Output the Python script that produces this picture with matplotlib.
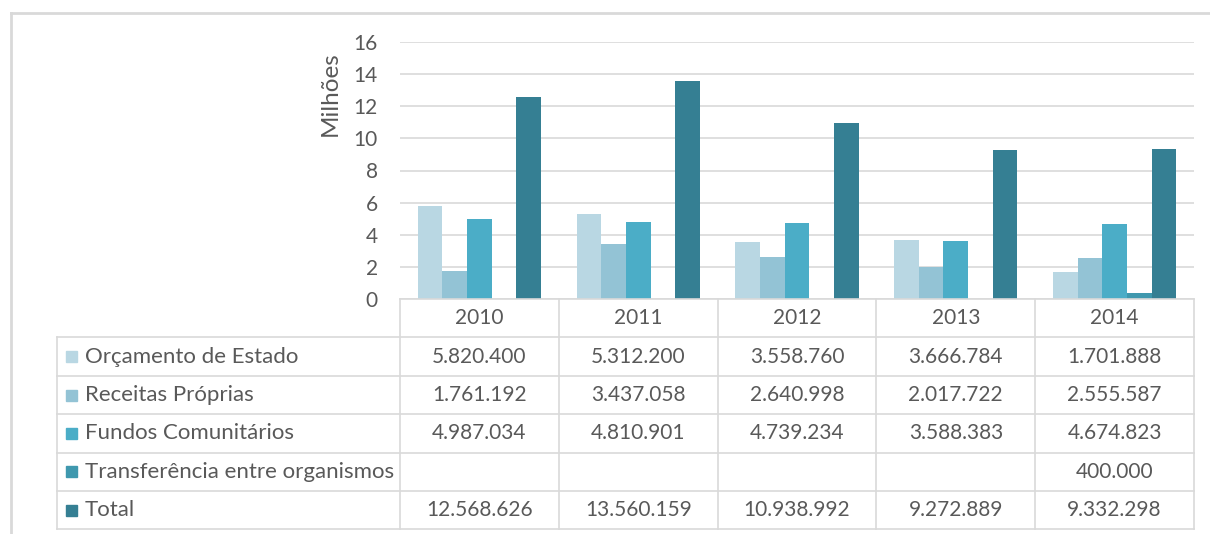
import numpy as np
import matplotlib
matplotlib.use("Agg")
import matplotlib.pyplot as plt
from matplotlib.lines import Line2D
from matplotlib.patches import Rectangle

plt.rcParams['font.family'] = ['Lato', 'DejaVu Sans']

# data (euros)
years = ["2010", "2011", "2012", "2013", "2014"]
series_names = ["Orçamento de Estado", "Receitas Próprias", "Fundos Comunitários",
                "Transferência entre organismos", "Total"]
orcamento = [5820400, 5312200, 3558760, 3666784, 1701888]
receitas = [1761192, 3437058, 2640998, 2017722, 2555587]
fundos = [4987034, 4810901, 4739234, 3588383, 4674823]
transferencia = [None, None, None, None, 400000]
total = [12568626, 13560159, 10938992, 9272889, 9332298]
colors = ["#b9d7e3", "#93c3d5", "#4badc7", "#3f98ae", "#357f93"]

W, H = 1210, 534
fig = plt.figure(figsize=(W / 100, H / 100), dpi=100)

def fx(x):
    return x / W

def fy(y):
    return 1 - y / H

# plot area
ax = fig.add_axes([fx(400), fy(299), fx(1194) - fx(400), fy(42) - fy(299)])
series = [orcamento, receitas, fundos, transferencia, total]
x = np.arange(len(years))
bw = 0.155
for i, (vals, c) in enumerate(zip(series, colors)):
    v = np.array([np.nan if s is None else s / 1e6 for s in vals])
    ax.bar(x + (i - 2) * bw, v, width=bw, color=c, zorder=2)

ax.set_xlim(-0.5, len(years) - 0.5)
ax.set_ylim(0, 16)
ax.set_yticks(range(0, 17, 2))
ax.grid(axis='y', color='#d9d9d9', linewidth=1.2, zorder=0)
for s in ax.spines.values():
    s.set_visible(False)
ax.set_xticks([])
ax.tick_params(axis='y', length=0, labelsize=15, labelcolor='#595959', pad=16)
ax.set_ylabel("Milhões", fontsize=17.5, color='#595959')
ax.yaxis.set_label_coords(-0.074, 0.80)

# outer border
fig.add_artist(Line2D([fx(11), fx(11)], [fy(13), fy(534)], color='#d9d9d9', lw=2))
fig.add_artist(Line2D([fx(11), fx(1210)], [fy(13), fy(13)], color='#d9d9d9', lw=2))

# data table
grid_c = '#d9d9d9'
txt_c = '#595959'
fs = 15
fig.canvas.draw()
edges_px = [ax.transData.transform((e, 0))[0] for e in np.arange(-0.5, len(years), 1.0)]
row_tops = [299, 337.4, 375.8, 414.2, 452.6, 491, 529.4]
left = 57

# vertical lines
for e in edges_px:
    fig.add_artist(Line2D([e / W, e / W], [fy(row_tops[0]), fy(row_tops[-1])], color=grid_c, lw=1.2))
fig.add_artist(Line2D([fx(left), fx(left)], [fy(row_tops[1]), fy(row_tops[-1])], color=grid_c, lw=1.2))
# horizontal lines
for k, yy in enumerate(row_tops):
    x0 = edges_px[0] / W if k == 0 else fx(left)
    fig.add_artist(Line2D([x0, edges_px[-1] / W], [fy(yy), fy(yy)], color=grid_c, lw=1.2))

centers = [(edges_px[j] + edges_px[j + 1]) / 2 for j in range(len(years))]
for j, yr in enumerate(years):
    fig.text(centers[j] / W, fy((row_tops[0] + row_tops[1]) / 2), yr,
             ha='center', va='center', fontsize=fs, color=txt_c)

def fmt(v):
    return "" if v is None else f"{v:,}".replace(",", ".")

for r, (name, vals, c) in enumerate(zip(series_names, series, colors)):
    yc = (row_tops[r + 1] + row_tops[r + 2]) / 2
    fig.add_artist(Rectangle((fx(66), fy(yc + 5.5)), 11 / W, 11 / H, color=c))
    fig.text(fx(85), fy(yc), name, ha='left', va='center', fontsize=16, color=txt_c)
    for j, v in enumerate(vals):
        fig.text(centers[j] / W, fy(yc), fmt(v), ha='center', va='center',
                 fontsize=fs, color=txt_c)

fig.savefig("out.png", dpi=100)
